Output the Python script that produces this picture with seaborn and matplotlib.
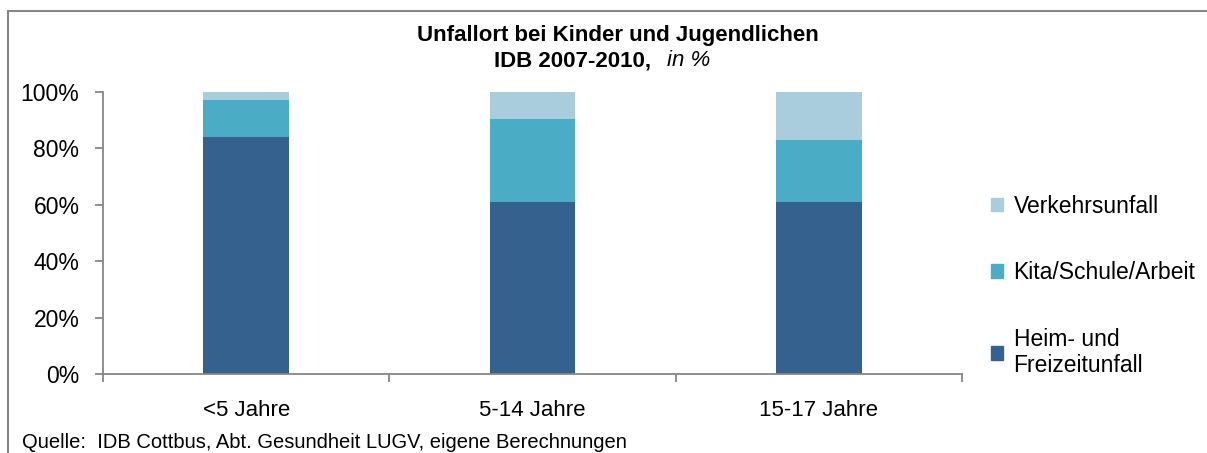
import matplotlib
matplotlib.use("Agg")
import matplotlib.pyplot as plt
import matplotlib.patches as mpatches
import numpy as np
import pandas as pd
import seaborn as sns

# data (percent)
ages = ["<5 Jahre", "5-14 Jahre", "15-17 Jahre"]
heim = [84, 61, 61]
kita = [13, 29.5, 22]
verkehr = [3, 9.5, 17]

series = ["Heim- und\nFreizeitunfall", "Kita/Schule/Arbeit", "Verkehrsunfall"]
colors = ["#35618F", "#4BACC6", "#A9CDDC"]

df = pd.DataFrame({"Alter": ages, "Heim": heim, "Kita": kita, "Verkehr": verkehr})
df["c1"] = df["Heim"]
df["c2"] = df["Heim"] + df["Kita"]
df["c3"] = df["c2"] + df["Verkehr"]

sns.set_style("white")
plt.rcParams["font.family"] = ["Liberation Sans", "DejaVu Sans"]
plt.rcParams["text.color"] = "black"

W, H = 1207, 453
fig = plt.figure(figsize=(W / 100, H / 100), dpi=100)
ax = fig.add_axes([103 / W, 1 - 374 / H, (962 - 103) / W, (374 - 92) / H])

# stacked bars: draw cumulative totals from the top layer down
for col, c in zip(["c3", "c2", "c1"], colors[::-1]):
    sns.barplot(data=df, x="Alter", y=col, color=c, width=0.3, saturation=1,
                errorbar=None, linewidth=0, ax=ax)

ax.set_xlim(-0.5, 2.5)
ax.set_ylim(0, 100)
ax.set_yticks(np.arange(0, 101, 20))
ax.set_yticklabels([f"{v}%" for v in range(0, 101, 20)])
ax.set_xlabel("")
ax.set_ylabel("")

grey = "#868686"
for s in ["top", "right"]:
    ax.spines[s].set_visible(False)
for s in ["left", "bottom"]:
    ax.spines[s].set_color(grey)
    ax.spines[s].set_linewidth(1.3)

ax.tick_params(axis="y", which="major", left=True, length=6, width=1.3, color=grey,
               labelsize=16.5, pad=11, labelcolor="black")
ax.set_xticks([-0.5, 0.5, 1.5, 2.5], minor=True)
ax.tick_params(axis="x", which="minor", bottom=True, length=6, width=1.3, color=grey)
ax.tick_params(axis="x", which="major", bottom=False, length=0, labelsize=16, pad=19,
               labelcolor="black")

# legend (top entry first)
handles = [mpatches.Patch(color=colors[i], label=series[i]) for i in [2, 1, 0]]
fig.legend(handles=handles, loc="upper left", bbox_to_anchor=(970 / W, 1 - 174 / H),
           frameon=False, fontsize=16.5, handlelength=0.55, handleheight=0.55,
           handletextpad=0.45, labelspacing=1.9, labelcolor="black")

# title
fig.text(618 / W, 1 - 35 / H, "Unfallort bei Kinder und Jugendlichen", ha="center",
         va="center", fontsize=16, fontweight="bold")
fig.text(651 / W, 1 - 61 / H, "IDB 2007-2010,", ha="right", va="center", fontsize=16,
         fontweight="bold")
fig.text(667 / W, 1 - 61 / H, "in %", ha="left", va="center", fontsize=16,
         fontstyle="italic")

# source
fig.text(22 / W, 1 - 442 / H, "Quelle:  IDB Cottbus, Abt. Gesundheit LUGV, eigene Berechnungen",
         ha="left", va="center", fontsize=14.5)

# outer frame (right/bottom edges fall outside the image)
fig.add_artist(mpatches.Rectangle((8 / W, -0.1), 1.2, 1 - 11 / H + 0.1,
                                  transform=fig.transFigure, fill=False,
                                  edgecolor=grey, linewidth=1.5))

fig.savefig("out.png", dpi=100)
